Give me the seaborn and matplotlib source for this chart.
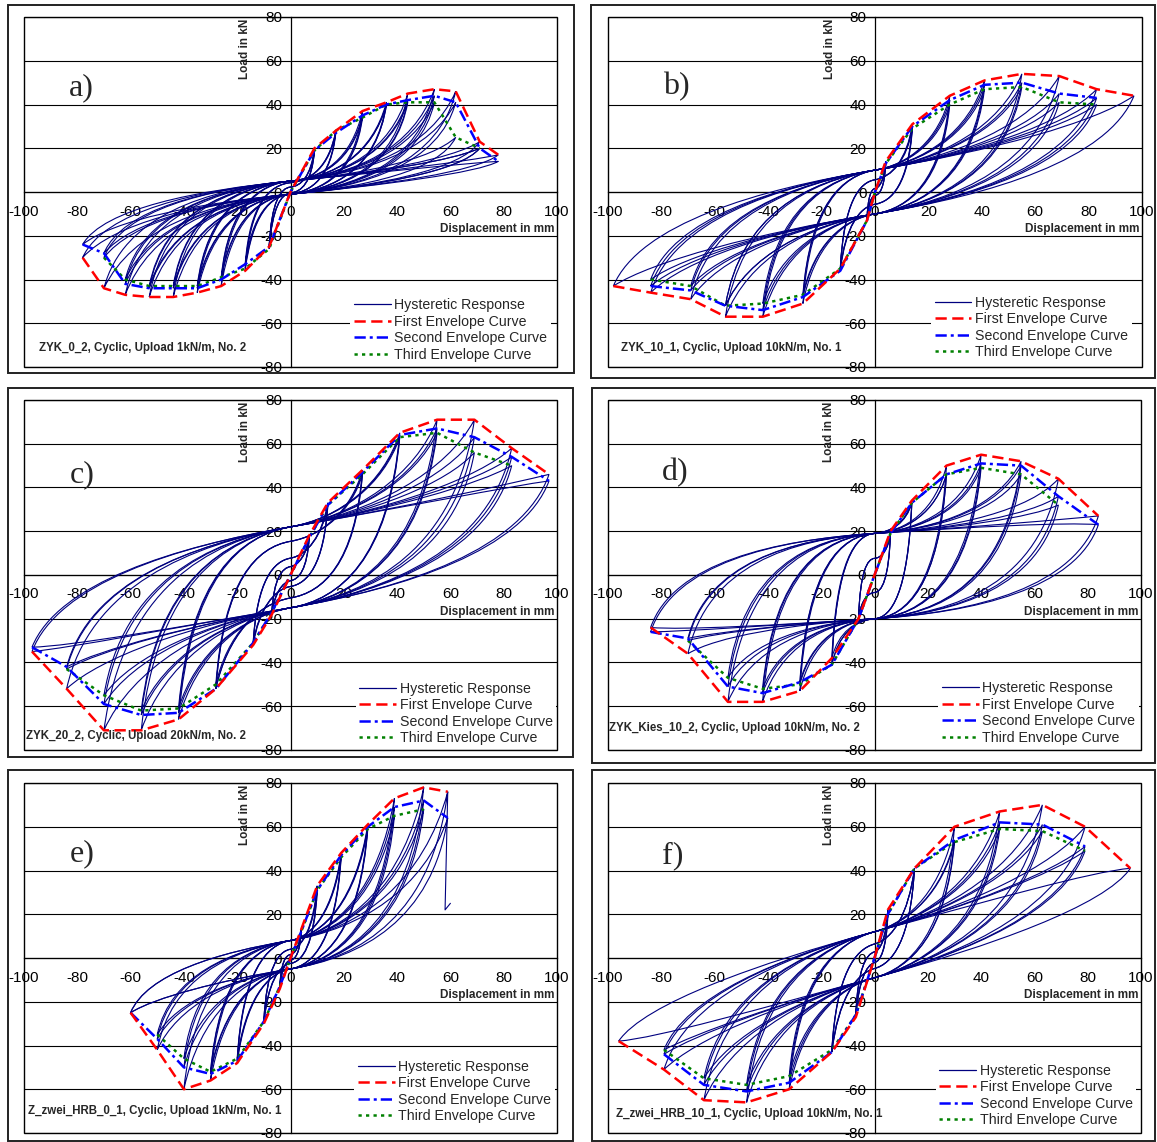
import numpy as np
import matplotlib
matplotlib.use("Agg")
import matplotlib.pyplot as plt
import seaborn as sns
from matplotlib.path import Path
from matplotlib.patches import PathPatch, Rectangle
from matplotlib.lines import Line2D

sns.set_theme(style="white")
plt.rcParams["font.family"] = ["Liberation Sans", "DejaVu Sans"]
plt.rcParams["axes.unicode_minus"] = False

nan = np.nan

# ---------------------------------------------------------------------------
# Cyclic test data: amplitudes (mm) and peak loads (kN) of the 1st, 2nd and
# 3rd cycle at each amplitude, positive and negative direction.
# ---------------------------------------------------------------------------
# a) ZYK_0_2
a_pos_d = [9, 17, 27, 36, 44, 54, 62, 71, 78]
a_pos_1 = [20, 28, 37, 41, 45, 47, 46, 23, 17]
a_pos_2 = [19, 27, 35, 40, 42, 44, 41, 20, 14]
a_pos_3 = [19, 28, 34, 40, 41, 41, 25, 20, nan]
a_neg_d = [-8, -17, -26, -35, -44, -53, -62, -70, -78]
a_neg_1 = [-25, -36, -43, -46, -48, -48, -47, -44, -30]
a_neg_2 = [-25, -33, -40, -44, -44, -44, -42, -28, -24]
a_neg_3 = [-26, -35, -39, -43, -43, -43, -40, -30, nan]

# b) ZYK_10_1
b_pos_d = [4, 14, 28, 41, 55, 69, 83, 97]
b_pos_1 = [14, 31, 44, 51, 54, 53, 47, 44]
b_pos_2 = [13, 30, 42, 49, 50, 45, 43, nan]
b_pos_3 = [13, 29, 40, 47, 48, 41, 40, nan]
b_neg_d = [-3, -13, -27, -42, -56, -69, -84, -98]
b_neg_1 = [-13, -35, -51, -57, -57, -49, -46, -43]
b_neg_2 = [-13, -36, -48, -54, -52, -45, -43, nan]
b_neg_3 = [-13, -35, -47, -51, -52, -43, -40, nan]

# c) ZYK_20_2
c_pos_d = [7, 14, 27, 41, 55, 69, 83, 97]
c_pos_1 = [18, 33, 48, 65, 71, 71, 58, 46]
c_pos_2 = [17, 32, 47, 64, 67, 63, 54, 43]
c_pos_3 = [17, 32, 46, 63, 65, 56, 50, nan]
c_neg_d = [-7, -14, -28, -42, -56, -70, -84, -97]
c_neg_1 = [-18, -32, -52, -66, -71, -71, -52, -35]
c_neg_2 = [-17, -31, -52, -63, -64, -59, -42, -33]
c_neg_3 = [-17, -31, -50, -61, -62, -55, -43, nan]

# d) ZYK_Kies_10_2
d_pos_d = [6, 14, 27, 40, 55, 69, 84]
d_pos_1 = [20, 34, 50, 55, 52, 44, 27]
d_pos_2 = [19, 33, 46, 51, 50, 36, 23]
d_pos_3 = [19, 33, 46, 49, 46, 32, nan]
d_neg_d = [-6, -16, -28, -42, -55, -70, -84]
d_neg_1 = [-20, -38, -53, -58, -58, -36, -24]
d_neg_2 = [-20, -41, -49, -54, -51, -29, -26]
d_neg_3 = [-20, -41, -50, -52, -47, -30, nan]

# e) Z_zwei_HRB_0_1
e_pos_d = [4, 10, 19, 29, 39, 50, 59]
e_pos_1 = [13, 33, 48, 61, 73, 78, 76]
e_pos_2 = [12, 31, 47, 60, 69, 72, 64]
e_pos_3 = [12, 31, 46, 59, 65, 68, nan]
e_neg_d = [-4, -10, -20, -30, -40, -50, -60]
e_neg_1 = [-14, -30, -48, -56, -60, -42, -25]
e_neg_2 = [-13, -29, -47, -53, -50, -37, -25]
e_neg_3 = [-13, -29, -46, -52, -46, -35, nan]
# final load drop of test e
e_drop_x = [59, 58, 60]
e_drop_y = [76, 22, 25]

# f) Z_zwei_HRB_10_1
f_pos_d = [5, 15, 30, 47, 63, 79, 96]
f_pos_1 = [22, 41, 60, 67, 70, 60, 41]
f_pos_2 = [20, 41, 54, 62, 61, 51, nan]
f_pos_3 = [20, 41, 53, 59, 58, 49, nan]
f_neg_d = [-7, -16, -32, -48, -64, -79, -96]
f_neg_1 = [-27, -43, -60, -66, -65, -51, -38]
f_neg_2 = [-26, -43, -57, -61, -58, -44, nan]
f_neg_3 = [-26, -42, -54, -58, -55, -42, nan]

panel_letters = ["a)", "b)", "c)", "d)", "e)", "f)"]
panel_titles = [
    "ZYK_0_2, Cyclic, Upload 1kN/m, No. 2",
    "ZYK_10_1, Cyclic, Upload 10kN/m, No. 1",
    "ZYK_20_2, Cyclic, Upload 20kN/m, No. 2",
    "ZYK_Kies_10_2, Cyclic, Upload 10kN/m, No. 2",
    "Z_zwei_HRB_0_1, Cyclic, Upload 1kN/m, No. 1",
    "Z_zwei_HRB_10_1, Cyclic, Upload 10kN/m, No. 1",
]
legend_labels = ["Hysteretic Response", "First Envelope Curve",
                 "Second Envelope Curve", "Third Envelope Curve"]
x_label = "Displacement in mm"
y_label = "Load in kN"

tests = [
    (a_pos_d, [a_pos_1, a_pos_2, a_pos_3], a_neg_d, [a_neg_1, a_neg_2, a_neg_3]),
    (b_pos_d, [b_pos_1, b_pos_2, b_pos_3], b_neg_d, [b_neg_1, b_neg_2, b_neg_3]),
    (c_pos_d, [c_pos_1, c_pos_2, c_pos_3], c_neg_d, [c_neg_1, c_neg_2, c_neg_3]),
    (d_pos_d, [d_pos_1, d_pos_2, d_pos_3], d_neg_d, [d_neg_1, d_neg_2, d_neg_3]),
    (e_pos_d, [e_pos_1, e_pos_2, e_pos_3], e_neg_d, [e_neg_1, e_neg_2, e_neg_3]),
    (f_pos_d, [f_pos_1, f_pos_2, f_pos_3], f_neg_d, [f_neg_1, f_neg_2, f_neg_3]),
]

# loop shape of each test: pinching load when crossing zero displacement
# (moving right / moving left), slope of the pinched branch, amplitude at
# which the pinching is fully developed, curvature when reaching a peak
loop_shape = [
    dict(cu=5, cd=-1, s=0.12, dref=20, h=0.25),
    dict(cu=10, cd=-10, s=0.20, dref=25, h=0.30),
    dict(cu=22, cd=-15, s=0.21, dref=40, h=0.35),
    dict(cu=19, cd=-20, s=0.08, dref=15, h=0.30),
    dict(cu=8, cd=-5, s=0.20, dref=20, h=0.30),
    dict(cu=12, cd=-9, s=0.33, dref=30, h=0.30),
]

# figure layout in pixels: outer frames and plotting areas
W, H = 1157, 1142
frames = [(8, 5, 574, 373), (591, 5, 1155, 378), (8, 388, 573, 757),
          (592, 388, 1155, 763), (8, 770, 573, 1141), (592, 770, 1155, 1141)]
areas = [(24, 17, 557, 367), (608, 17, 1142, 367), (24, 400, 557, 750),
         (608, 400, 1141, 750), (24, 783, 557, 1133), (608, 783, 1141, 1133)]
letter_pos = [(-83, 47.5), (-79.5, 48), (-83, 46), (-79.7, 46.8), (-83, 47.9), (-79.7, 46.8)]
title_pos = [(-94.5, -71.5), (-95, -71.5), (-99.3, -73.6), (-99.7, -70), (-98.6, -70), (-97, -71.3)]
legend_pos = [(22.5, -47), (21, -45.8), (24.5, -47.2), (24, -47), (24, -44.8), (23, -46.7)]

NAVY = "#00007f"
RED_LS = (0, (4.5, 2.2))
BLUE_LS = (0, (4.5, 1.6, 1.2, 1.6))
GREEN_LS = (0, (1.3, 1.7))


def loop_path(dn, pn, dp, pp, cu, cd, s, h):
    """One load cycle: negative peak -> positive peak -> negative peak."""
    def pinch(c, x):
        return c + s * x
    verts = [(dn, pn)]
    for x0, y0, c, x1, y1 in [(dn, pn, cu, dp, pp), (dp, pp, cd, dn, pn)]:
        xa = 0.9 * x0
        verts += [(xa, y0 + 0.8 * (pinch(c, xa) - y0)),
                  (0.45 * x0, pinch(c, 0.45 * x0)), (0.0, c)]
        xb = 0.85 * x1
        verts += [(0.45 * x1, pinch(c, 0.45 * x1)),
                  (xb, pinch(c, xb) + h * (y1 - pinch(c, xb))), (x1, y1)]
    codes = [Path.MOVETO] + [Path.CURVE4] * 12
    return Path(verts, codes)


def envelope(pos_d, pos_p, neg_d, neg_p):
    xs, ys = [], []
    for x, y in zip(neg_d[::-1], neg_p[::-1]):
        if not np.isnan(y):
            xs.append(x)
            ys.append(y)
    xs.append(0)
    ys.append(0)
    for x, y in zip(pos_d, pos_p):
        if not np.isnan(y):
            xs.append(x)
            ys.append(y)
    return xs, ys


fig = plt.figure(figsize=(W / 100, H / 100), dpi=100)
fig.patch.set_facecolor("white")

for k in range(6):
    l, t, r, b = frames[k]
    fig.add_artist(Rectangle((l / W, 1 - b / H), (r - l) / W, (b - t) / H,
                             transform=fig.transFigure, fill=False,
                             ec="#222222", lw=1.4))
    l, t, r, b = areas[k]
    ax = fig.add_axes([l / W, 1 - b / H, (r - l) / W, (b - t) / H])
    ax.set_facecolor("white")
    ax.set_xlim(-100, 100)
    ax.set_ylim(-80, 80)
    for sp in ["top", "right"]:
        ax.spines[sp].set_visible(False)
    for sp in ["left", "bottom"]:
        ax.spines[sp].set_position(("data", 0))
        ax.spines[sp].set_color("black")
        ax.spines[sp].set_linewidth(0.9)
        ax.spines[sp].set_zorder(1.5)
    ax.set_xticks(range(-100, 101, 20))
    ax.set_yticks(range(-80, 81, 20))
    ax.tick_params(axis="both", direction="inout", length=6, width=0.9,
                   colors="black", labelsize=11)
    ax.tick_params(axis="x", pad=6)
    ax.tick_params(axis="y", pad=3)
    ax.yaxis.grid(True, color="black", lw=0.8)
    ax.xaxis.grid(False)
    ax.set_axisbelow(True)

    pos_d, pos_ps, neg_d, neg_ps = tests[k]
    sh = loop_shape[k]
    for i in range(len(pos_d)):
        amp = max(pos_d[i], -neg_d[i])
        scale = min(1.0, amp / sh["dref"])
        for rep in range(3):
            pp = pos_ps[rep][i]
            pn = neg_ps[rep][i]
            if np.isnan(pp) or np.isnan(pn):
                continue
            path = loop_path(neg_d[i], pn, pos_d[i], pp,
                             sh["cu"] * scale, sh["cd"] * scale, sh["s"], sh["h"])
            ax.add_patch(PathPatch(path, fill=False, ec=NAVY, lw=0.8, zorder=2))
    if k == 4:
        sns.lineplot(x=e_drop_x, y=e_drop_y, sort=False, estimator=None,
                     ax=ax, color=NAVY, lw=0.8, zorder=2)

    for rep, (col, ls) in enumerate([("#ff0000", RED_LS), ("#0000ff", BLUE_LS),
                                     ("#008000", GREEN_LS)]):
        xs, ys = envelope(pos_d, pos_ps[rep], neg_d, neg_ps[rep])
        sns.lineplot(x=xs, y=ys, sort=False, estimator=None, ax=ax,
                     color=col, lw=1.8, linestyle=ls, zorder=4 - rep * 0.1)

    ax.set_xlabel("")
    ax.set_ylabel("")
    ax.text(-17, 79, y_label, rotation=90, ha="center", va="top",
            fontsize=8.5, fontweight="bold", zorder=5)
    ax.text(99, -17, x_label, ha="right", va="center",
            fontsize=8.5, fontweight="bold", zorder=5)
    lx, ly = letter_pos[k]
    ax.text(lx, ly, panel_letters[k], ha="left", va="center", fontsize=23,
            family=["Liberation Serif", "DejaVu Serif"], zorder=5)
    tx, ty = title_pos[k]
    ax.text(tx, ty, panel_titles[k], ha="left", va="center", fontsize=8.3,
            fontweight="bold", zorder=5)

    handles = [Line2D([], [], color=NAVY, lw=0.9),
               Line2D([], [], color="#ff0000", lw=1.8, linestyle=RED_LS),
               Line2D([], [], color="#0000ff", lw=1.8, linestyle=BLUE_LS),
               Line2D([], [], color="#008000", lw=1.8, linestyle=GREEN_LS)]
    lg = ax.legend(handles, legend_labels, loc="upper left",
                   bbox_to_anchor=legend_pos[k], bbox_transform=ax.transData,
                   frameon=True, facecolor="white", edgecolor="none",
                   framealpha=1, fancybox=False, fontsize=10.2, handlelength=2.6,
                   handletextpad=0.25, labelspacing=0.18, borderpad=0.25,
                   borderaxespad=0)
    lg.set_zorder(6)

    # plotting-area frame drawn above everything else
    ax.add_patch(Rectangle((-100, -80), 200, 160, fill=False, ec="black",
                           lw=1.0, clip_on=False, zorder=7))

fig.savefig("out.png", dpi=100, facecolor="white")
